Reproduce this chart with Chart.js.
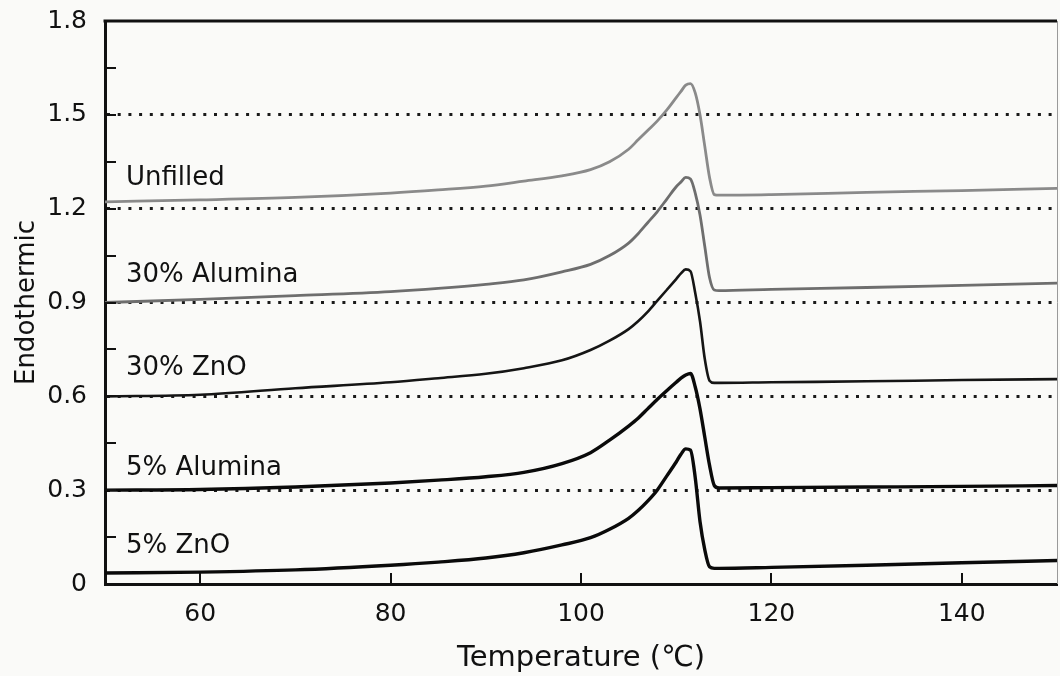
<!DOCTYPE html>
<html>
<head>
<meta charset="utf-8">
<script src="https://cdn.jsdelivr.net/npm/chart.js@4/dist/chart.umd.min.js"></script>
<style>
  html, body { margin: 0; padding: 0; background: #fafaf8; }
  #wrap { width: 1060px; height: 676px; position: relative; }
</style>
</head>
<body>
<div id="wrap"><canvas id="c" width="1060" height="676"></canvas></div>
<script>
// ---- data ----
const temps = [50, 60, 70, 80, 85, 90, 94, 98, 101, 103, 105, 106, 107, 108, 109, 110, 110.5, 111, 111.5, 112, 112.5, 113, 113.5, 114, 114.5, 120, 130, 140, 150];

const unfilled   = [1.222, 1.228, 1.236, 1.25, 1.26, 1.272, 1.288, 1.305, 1.325, 1.35, 1.39, 1.42, 1.45, 1.48, 1.515, 1.555, 1.575, 1.595, 1.60, 1.57, 1.50, 1.40, 1.30, 1.245, 1.243, 1.245, 1.252, 1.258, 1.265];
const alumina30  = [0.90, 0.91, 0.922, 0.935, 0.945, 0.958, 0.972, 0.998, 1.022, 1.05, 1.09, 1.12, 1.155, 1.19, 1.23, 1.27, 1.285, 1.30, 1.295, 1.25, 1.18, 1.08, 0.98, 0.94, 0.938, 0.942, 0.948, 0.955, 0.962];
const zno30      = [0.60, 0.605, 0.626, 0.645, 0.658, 0.672, 0.69, 0.715, 0.748, 0.778, 0.815, 0.84, 0.87, 0.905, 0.94, 0.975, 0.993, 1.006, 1.0, 0.93, 0.84, 0.72, 0.65, 0.643, 0.643, 0.645, 0.648, 0.652, 0.655];
const alumina5   = [0.30, 0.302, 0.31, 0.323, 0.332, 0.343, 0.357, 0.385, 0.42, 0.46, 0.505, 0.53, 0.56, 0.59, 0.618, 0.645, 0.658, 0.668, 0.673, 0.63, 0.56, 0.47, 0.38, 0.315, 0.307, 0.308, 0.31, 0.312, 0.315];
const zno5       = [0.035, 0.038, 0.045, 0.06, 0.07, 0.083, 0.10, 0.125, 0.148, 0.175, 0.21, 0.235, 0.265, 0.30, 0.345, 0.39, 0.415, 0.432, 0.428, 0.34, 0.20, 0.11, 0.055, 0.05, 0.05, 0.053, 0.06, 0.068, 0.075];

const seriesNames = ['Unfilled', '30% Alumina', '30% ZnO', '5% Alumina', '5% ZnO'];

const xTicks = [60, 80, 100, 120, 140];
const yTicks = [0, 0.15, 0.3, 0.45, 0.6, 0.75, 0.9, 1.05, 1.2, 1.35, 1.5, 1.65, 1.8];
const yTickLabels = ['0', '', '0.3', '', '0.6', '', '0.9', '', '1.2', '', '1.5', '', '1.8'];
const baselines = [0.3, 0.6, 0.9, 1.2, 1.5];

// ---- styling / annotation placement ----
const FONT = "'DejaVu Sans', sans-serif";
const labelAnchors = [[52.2, 1.275], [52.2, 0.965], [52.2, 0.668], [52.2, 0.348], [52.2, 0.099]];

function mk(name, values, color, width) {
  return {
    label: name,
    data: temps.map((t, i) => ({ x: t, y: values[i] })),
    borderColor: color,
    borderWidth: width,
    pointRadius: 0,
    fill: false,
    cubicInterpolationMode: 'monotone'
  };
}

const decor = {
  id: 'decor',
  afterDraw(chart) {
    const { ctx, chartArea: a, scales: { x, y } } = chart;
    ctx.save();
    // inward ticks
    ctx.strokeStyle = '#111';
    ctx.lineWidth = 2;
    yTicks.forEach(v => {
      const py = Math.round(y.getPixelForValue(v));
      ctx.beginPath(); ctx.moveTo(a.left, py); ctx.lineTo(a.left + 11, py); ctx.stroke();
    });
    xTicks.forEach(v => {
      const px = Math.round(x.getPixelForValue(v));
      ctx.beginPath(); ctx.moveTo(px, a.bottom); ctx.lineTo(px, a.bottom - 11); ctx.stroke();
    });
    // top frame line
    ctx.lineWidth = 3;
    ctx.beginPath(); ctx.moveTo(a.left - 1.5, a.top); ctx.lineTo(a.right, a.top); ctx.stroke();
    // right frame line (faint)
    ctx.lineWidth = 1;
    ctx.strokeStyle = '#999';
    ctx.beginPath(); ctx.moveTo(a.right + 0.5, a.top); ctx.lineTo(a.right + 0.5, a.bottom); ctx.stroke();
    // series labels
    ctx.fillStyle = '#111';
    ctx.font = "26px " + FONT;
    ctx.textAlign = 'left';
    ctx.textBaseline = 'alphabetic';
    seriesNames.forEach((n, i) => {
      ctx.fillText(n, x.getPixelForValue(labelAnchors[i][0]), y.getPixelForValue(labelAnchors[i][1]));
    });
    ctx.restore();
  }
};

new Chart(document.getElementById('c'), {
  type: 'line',
  data: {
    datasets: [
      mk(seriesNames[0], unfilled, '#8a8a8a', 2.8),
      mk(seriesNames[1], alumina30, '#6e6e6e', 2.8),
      mk(seriesNames[2], zno30, '#151515', 2.6),
      mk(seriesNames[3], alumina5, '#0a0a0a', 3.4),
      mk(seriesNames[4], zno5, '#0a0a0a', 3.4)
    ]
  },
  options: {
    responsive: false,
    animation: false,
    layout: { padding: { top: 21, right: 3, left: 0, bottom: 0 } },
    plugins: { legend: { display: false }, tooltip: { enabled: false } },
    scales: {
      x: {
        type: 'linear',
        min: 50, max: 150,
        afterBuildTicks: s => { s.ticks = xTicks.map(v => ({ value: v })); },
        afterFit: s => { s.height = 92; s.paddingLeft = 0; s.paddingRight = 0; },
        grid: { display: true, color: 'rgba(0,0,0,0)', drawTicks: false },
        border: { display: true, color: '#111', width: 3 },
        ticks: { color: '#111', font: { family: FONT, size: 25 }, padding: 15, maxRotation: 0 },
        title: { display: true, text: 'Temperature (℃)', color: '#111', font: { family: FONT, size: 29 }, padding: { top: 0, bottom: 0 } }
      },
      y: {
        type: 'linear',
        min: 0, max: 1.8,
        afterBuildTicks: s => { s.ticks = yTicks.map(v => ({ value: v })); },
        afterFit: s => { s.width = 105; s.paddingTop = 0; s.paddingBottom = 0; },
        grid: {
          drawTicks: false,
          lineWidth: 3,
          color: c => baselines.some(b => Math.abs(b - c.tick.value) < 1e-6) ? '#1a1a1a' : 'rgba(0,0,0,0)'
        },
        border: { display: true, color: '#111', width: 3, dash: [3, 7.7] },
        ticks: {
          color: '#111', font: { family: FONT, size: 25 }, padding: 18,
          callback: (v, i) => yTickLabels[i]
        },
        title: { display: true, text: 'Endothermic', color: '#111', font: { family: FONT, size: 26 }, padding: { top: 12, bottom: 0 } }
      }
    }
  },
  plugins: [decor]
});
</script>
</body>
</html>
